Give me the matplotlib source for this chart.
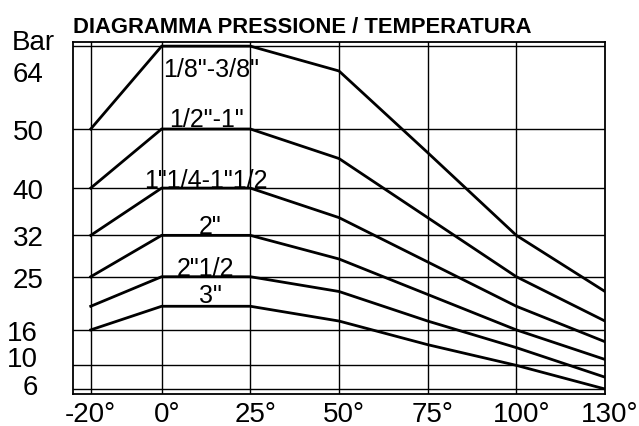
import numpy as np
import matplotlib
matplotlib.use("Agg")
import matplotlib.pyplot as plt
from matplotlib.transforms import ScaledTranslation

# ---------------- data ----------------
temps = [-20, 0, 25, 50, 75, 100, 130]
x_labels = ["-20°", "0°", "25°", "50°", "75°", "100°", "130°"]

series_names = ['1/8"-3/8"', '1/2"-1"', '1"1/4-1"1/2', '2"', '2"1/2', '3"']
p_18_38 = [50, 70, 70, 64, 46, 32, 22.5]
p_12_1 = [40, 50, 50, 45, 35, 25, 17.5]
p_114_112 = [32, 40, 40, 35, 27.5, 20, 14]
p_2 = [25, 32, 32, 28, 22, 16, 11]
p_212 = [20, 25, 25, 22.5, 17.5, 13, 8]
p_3 = [16, 20, 20, 17.5, 13.5, 10, 6]
series = [p_18_38, p_12_1, p_114_112, p_2, p_212, p_3]

y_ticks = [6, 10, 16, 25, 32, 40, 50, 64]
y_grid = [6, 10, 16, 25, 32, 40, 50, 70]
x_grid = [-20, 0, 25, 50, 75, 100]

title = "DIAGRAMMA PRESSIONE / TEMPERATURA"
unit = "Bar"

# ---------------- scales (drawing is non-linear at the ends) ----------------
K = 0.701


def xf(t):
    t = np.asarray(t, float)
    return np.where(t <= 100, t, 100 + (t - 100) * 25.0 / 30.0)


def xi(u):
    u = np.asarray(u, float)
    return np.where(u <= 100, u, 100 + (u - 100) * 30.0 / 25.0)


def yf(v):
    v = np.asarray(v, float)
    return np.where(v <= 50, v, 50 + (v - 50) * K)


def yi(u):
    u = np.asarray(u, float)
    return np.where(u <= 50, u, 50 + (u - 50) / K)


W, H = 639, 427
fig = plt.figure(figsize=(W / 100, H / 100), dpi=100)
ax = fig.add_axes([73 / W, 1 - 395 / H, (605 - 73) / W, (395 - 42.7) / H])
ax.set_xscale("function", functions=(xf, xi))
ax.set_yscale("function", functions=(yf, yi))
ax.set_xlim(-25, 130)
ax.set_ylim(5.154, 71.07)

# grid
for g in y_grid:
    ax.axhline(g, color="black", lw=1.0, zorder=1)
for g in x_grid:
    ax.axvline(g, color="black", lw=1.0, zorder=1)

# curves
for s in series:
    ax.plot(temps, s, color="black", lw=2.0, zorder=3, solid_joinstyle="miter")

for sp in ax.spines.values():
    sp.set_color("black")
    sp.set_linewidth(1.3)

lab_font = dict(family=["Liberation Sans", "DejaVu Sans"], size=20)
ax.set_xticks(temps)
ax.set_xticklabels(x_labels, **lab_font)
ax.set_yticks(y_ticks)
ax.set_yticklabels([str(v) for v in y_ticks], **lab_font)
ax.tick_params(axis="both", length=0)
ax.tick_params(axis="y", pad=21)
ax.tick_params(axis="x", pad=5)
ax.yaxis.set_minor_locator(matplotlib.ticker.NullLocator())
ax.xaxis.set_minor_locator(matplotlib.ticker.NullLocator())

# small label nudges as in the drawing
fig.canvas.draw()
for lbl in ax.get_xticklabels()[1:]:
    lbl.set_transform(lbl.get_transform() + ScaledTranslation(5 / 100, 0, fig.dpi_scale_trans))
ynudge = {"16": (-6, 0), "10": (-6, 9), "6": (-6, 5)}
for lbl in ax.get_yticklabels():
    t = lbl.get_text()
    if t in ynudge:
        dx, dy = ynudge[t]
        lbl.set_transform(lbl.get_transform() + ScaledTranslation(dx / 100, dy / 100, fig.dpi_scale_trans))

# series labels
s_font = dict(family=["Liberation Sans", "DejaVu Sans"], size=18)
label_pos = [
    (0, p_18_38[1], 1, -30, "left"),
    (12.5, p_12_1[1], 0, 3, "center"),
    (12.5, p_114_112[1], 0, 1, "center"),
    (12.5, p_2[1], 4, 2, "center"),
    (12.5, p_212[1], -1, 2, "center"),
    (12.5, p_3[1], 4, 4, "center"),
]
for name, (x, y, dx, dy, ha) in zip(series_names, label_pos):
    ax.annotate(name, xy=(x, y), xytext=(dx, dy), textcoords="offset pixels",
                ha=ha, va="baseline", zorder=4, **s_font)

fig.text(73 / W, 1 - 33 / H, title, ha="left", va="baseline",
         family=["Liberation Sans", "DejaVu Sans"],
         weight="bold", size=15.8)
fig.text(12 / W, 1 - 50 / H, unit, ha="left", va="baseline", **lab_font)

fig.savefig("out.png", dpi=100)
